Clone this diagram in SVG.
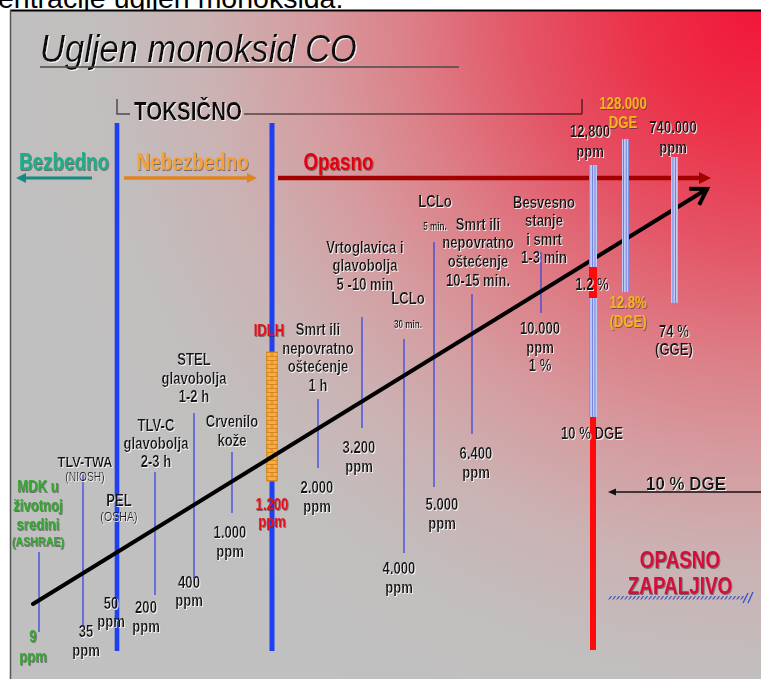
<svg xmlns="http://www.w3.org/2000/svg" width="761" height="679" viewBox="0 0 761 679">
<defs>
<radialGradient id="bg" gradientUnits="userSpaceOnUse" cx="761" cy="10" r="790">
<stop offset="0" stop-color="#f2163a"/>
<stop offset="0.15" stop-color="#ec3048"/>
<stop offset="0.3" stop-color="#e45466"/>
<stop offset="0.45" stop-color="#dc8088"/>
<stop offset="0.57" stop-color="#d59ca0"/>
<stop offset="0.7" stop-color="#cbb2b3"/>
<stop offset="0.84" stop-color="#c2bebe"/>
<stop offset="1" stop-color="#c0c0c0"/>
</radialGradient>
<pattern id="stripe" patternUnits="userSpaceOnUse" x="0" y="0" width="2.6" height="10">
<rect width="2.6" height="10" fill="#c0caf6"/>
<rect x="1.8" width="0.8" height="10" fill="#6072d6"/>
</pattern>
<pattern id="brick" patternUnits="userSpaceOnUse" x="266.5" y="352" width="11" height="8">
<rect width="11" height="8" fill="#f7ae3c"/>
<path d="M0,0.4H11M0,4.4H11M5.5,0V4.4M0.4,4.4V8M10.6,4.4V8" stroke="#c9771c" stroke-width="0.8" fill="none"/>
</pattern>
<pattern id="hatch" patternUnits="userSpaceOnUse" x="0" y="596" width="4" height="4">
<path d="M0.5,4L3.5,0" stroke="#3552d2" stroke-width="1.2"/>
</pattern>
<filter id="shW" x="-10%" y="-10%" width="130%" height="140%">
<feDropShadow dx="1" dy="1" stdDeviation="0.3" flood-color="#ffffff" flood-opacity="0.9"/>
</filter>
<filter id="shD" x="-10%" y="-10%" width="130%" height="140%">
<feDropShadow dx="1" dy="1" stdDeviation="0.4" flood-color="#303030" flood-opacity="0.6"/>
</filter>
<marker id="mTeal" markerUnits="userSpaceOnUse" markerWidth="12" markerHeight="12" refX="2" refY="5" orient="auto" overflow="visible">
<path d="M0,0L10,5L0,10z" fill="#178a80"/>
</marker>
<marker id="mOrange" markerUnits="userSpaceOnUse" markerWidth="12" markerHeight="12" refX="2" refY="5" orient="auto" overflow="visible">
<path d="M0,0L10,5L0,10z" fill="#e2841e"/>
</marker>
<marker id="mRed" markerUnits="userSpaceOnUse" markerWidth="14" markerHeight="14" refX="2" refY="6" orient="auto" overflow="visible">
<path d="M0,0L12,6L0,12z" fill="#a50000"/>
</marker>
<marker id="mBlack" markerUnits="userSpaceOnUse" markerWidth="24" markerHeight="24" refX="20" refY="12" orient="auto" overflow="visible">
<path d="M5,2.5L20,12L5,21.5" fill="none" stroke="#000" stroke-width="4"/>
</marker>
<marker id="mSmall" markerUnits="userSpaceOnUse" markerWidth="10" markerHeight="10" refX="1" refY="3.5" orient="auto" overflow="visible">
<path d="M0,0L8,3.5L0,7z" fill="#111"/>
</marker>
</defs>
<style>
text{font-family:"Liberation Sans",Arial,sans-serif}
.lbl text{font-weight:bold;font-size:16px;fill:#171717;text-anchor:middle;filter:url(#shW)}
.lbl text.sm{font-size:10px}
.lbl text.par{font-size:12.5px;font-weight:normal}
.grn text{fill:#34a632;filter:url(#shD)}
.red text{fill:#e8101c;filter:url(#shD)}
.org text{fill:#f5b31c;filter:url(#shD)}
.lead{stroke:#3848e0;stroke-width:1.3}
.thick{fill:#1f40f2}
.bar{fill:url(#stripe)}
</style>

<rect x="0" y="0" width="761" height="679" fill="#ffffff"/>
<text x="-2" y="8" font-size="28.5" fill="#000">entracije ugljen monoksida:</text>
<rect x="10" y="10" width="760" height="680" fill="url(#bg)"/>
<line x1="10" y1="10.5" x2="761" y2="10.5" stroke="#000" stroke-width="2"/>
<line x1="10.5" y1="10" x2="10.5" y2="679" stroke="#555" stroke-width="1.5"/>

<g id="title" filter="url(#shW)">
<text x="40" y="62" font-size="39" font-style="italic" fill="#111" textLength="317" lengthAdjust="spacingAndGlyphs">Ugljen monoksid CO</text>
</g>
<line x1="40" y1="67" x2="459" y2="67" stroke="#4a4a4a" stroke-width="1.5"/>

<g id="toksicno">
<path d="M117,99V114H130M244,114H582M582,99V114" fill="none" stroke="#000" stroke-opacity="0.6" stroke-width="1.5"/>
<g transform="translate(188 0) scale(.82 1)"><text x="0" y="120" font-size="25" font-weight="bold" fill="#111" text-anchor="middle" filter="url(#shW)">TOKSIČNO</text></g>
</g>

<g id="zones">
<g id="n-bezbedno" transform="translate(64 0) scale(.82 1)"><text x="0" y="170" font-size="23" font-weight="bold" fill="#1fae88" text-anchor="middle" filter="url(#shD)">Bezbedno</text></g>
<g id="n-nebezbedno" transform="translate(192.5 0) scale(.82 1)"><text x="0" y="170" font-size="23" font-weight="bold" fill="#f4a23e" text-anchor="middle" filter="url(#shD)">Nebezbedno</text></g>
<g id="n-opasno" transform="translate(338.5 0) scale(.82 1)"><text x="0" y="170" font-size="23" font-weight="bold" fill="#e6000e" text-anchor="middle" filter="url(#shD)">Opasno</text></g>
</g>

<g id="limits">
<rect class="thick" x="114.7" y="123" width="4.6" height="528"/>
<rect class="thick" x="269.5" y="123" width="5" height="528"/>
<rect x="266.5" y="352" width="11" height="129" fill="url(#brick)" stroke="#d08a20" stroke-width="0.8"/>
</g>

<g id="connectors">
<line x1="92" y1="178" x2="24" y2="178" stroke="#178a80" stroke-width="3" marker-end="url(#mTeal)"/>
<line x1="124" y1="178" x2="249" y2="178" stroke="#e2841e" stroke-width="3.5" marker-end="url(#mOrange)"/>
<line x1="278" y1="178" x2="701" y2="178" stroke="#a50000" stroke-width="4.5" marker-end="url(#mRed)"/>
<line class="lead" x1="39" y1="552" x2="39" y2="632"/>
<line class="lead" x1="83" y1="472" x2="83" y2="625"/>
<line class="lead" x1="155" y1="472" x2="155" y2="595"/>
<line class="lead" x1="194" y1="413" x2="194" y2="578"/>
<line class="lead" x1="232" y1="452" x2="232" y2="513"/>
<line class="lead" x1="318" y1="399" x2="318" y2="468"/>
<line class="lead" x1="362" y1="317" x2="362" y2="428"/>
<line class="lead" x1="404" y1="339" x2="404" y2="553"/>
<line class="lead" x1="434" y1="242" x2="434" y2="487"/>
<line class="lead" x1="472" y1="294" x2="472" y2="434"/>
<line class="lead" x1="541" y1="252" x2="541" y2="313"/>
<line x1="33" y1="604" x2="707" y2="189" stroke="#000" stroke-width="4" stroke-linecap="round" marker-end="url(#mBlack)"/>
<line x1="761" y1="492" x2="615" y2="492" stroke="#111" stroke-width="1.5" marker-end="url(#mSmall)"/>
</g>

<g id="bars">
<rect class="bar" x="589" y="165" width="8" height="102"/>
<rect x="589" y="267" width="8" height="31" fill="#ff0a0a"/>
<rect class="bar" x="589" y="298" width="8" height="119"/>
<rect x="590" y="417" width="6" height="233" fill="#ff0a0a"/>
<rect class="bar" x="622" y="139" width="7" height="153"/>
<rect class="bar" x="671" y="157" width="7" height="146"/>
</g>

<g id="n-mdk" class="lbl grn" transform="translate(38 0) scale(.82 1)"><text><tspan x="0" y="492">MDK u</tspan><tspan x="0" y="511">životnoj</tspan><tspan x="0" y="530">sredini</tspan><tspan x="0" y="546" style="font-size:13px">(ASHRAE)</tspan></text></g>
<g id="n-9ppm" class="lbl grn" transform="translate(33 0) scale(.82 1)"><text><tspan x="0" y="642">9</tspan><tspan x="0" y="662">ppm</tspan></text></g>
<g id="n-tlvtwa" class="lbl" transform="translate(85 0) scale(.82 1)"><text><tspan x="0" y="467" style="font-size:15.5px">TLV-TWA</tspan><tspan x="0" y="481" class="par" style="font-size:12.5px;font-weight:normal">(NIOSH)</tspan></text></g>
<g id="n-35ppm" class="lbl" transform="translate(86 0) scale(.82 1)"><text><tspan x="0" y="637">35</tspan><tspan x="0" y="656">ppm</tspan></text></g>
<g id="n-pel" class="lbl" transform="translate(119 0) scale(.82 1)"><text><tspan x="0" y="506">PEL</tspan><tspan x="0" y="521" style="font-size:13px;font-weight:normal">(OSHA)</tspan></text></g>
<g id="n-50ppm" class="lbl" transform="translate(111 0) scale(.82 1)"><text><tspan x="0" y="609">50</tspan><tspan x="0" y="627">ppm</tspan></text></g>
<g id="n-tlvc" class="lbl" transform="translate(156 0) scale(.82 1)"><text><tspan x="0" y="431">TLV-C</tspan><tspan x="0" y="449">glavobolja</tspan><tspan x="0" y="467">2-3 h</tspan></text></g>
<g id="n-200ppm" class="lbl" transform="translate(146 0) scale(.82 1)"><text><tspan x="0" y="613">200</tspan><tspan x="0" y="632">ppm</tspan></text></g>
<g id="n-stel" class="lbl" transform="translate(194 0) scale(.82 1)"><text><tspan x="0" y="365">STEL</tspan><tspan x="0" y="384">glavobolja</tspan><tspan x="0" y="402">1-2 h</tspan></text></g>
<g id="n-400ppm" class="lbl" transform="translate(189 0) scale(.82 1)"><text><tspan x="0" y="588">400</tspan><tspan x="0" y="606">ppm</tspan></text></g>
<g id="n-crvenilo" class="lbl" transform="translate(232 0) scale(.82 1)"><text><tspan x="0" y="427">Crvenilo</tspan><tspan x="0" y="446">kože</tspan></text></g>
<g id="n-1000ppm" class="lbl" transform="translate(230 0) scale(.82 1)"><text><tspan x="0" y="538">1.000</tspan><tspan x="0" y="557">ppm</tspan></text></g>
<g id="n-idlh" class="lbl red" transform="translate(269 0) scale(.82 1)"><text><tspan x="0" y="336">IDLH</tspan></text></g>
<g id="n-1200ppm" class="lbl red" transform="translate(272 0) scale(.82 1)"><text><tspan x="0" y="510">1.200</tspan><tspan x="0" y="527">ppm</tspan></text></g>
<g id="n-smrt1h" class="lbl" transform="translate(318 0) scale(.82 1)"><text><tspan x="0" y="335">Smrt ili</tspan><tspan x="0" y="354">nepovratno</tspan><tspan x="0" y="372">oštećenje</tspan><tspan x="0" y="391">1 h</tspan></text></g>
<g id="n-2000ppm" class="lbl" transform="translate(317 0) scale(.82 1)"><text><tspan x="0" y="493">2.000</tspan><tspan x="0" y="512">ppm</tspan></text></g>
<g id="n-vrtoglavica" class="lbl" transform="translate(365 0) scale(.82 1)"><text><tspan x="0" y="253">Vrtoglavica i</tspan><tspan x="0" y="271">glavobolja</tspan><tspan x="0" y="290">5 -10 min</tspan></text></g>
<g id="n-3200ppm" class="lbl" transform="translate(359 0) scale(.82 1)"><text><tspan x="0" y="453">3.200</tspan><tspan x="0" y="472">ppm</tspan></text></g>
<g id="n-lclo30" class="lbl" transform="translate(408 0) scale(.82 1)"><text><tspan x="0" y="304">LCLo</tspan><tspan x="0" y="328" style="font-size:10px">30 min.</tspan></text></g>
<g id="n-4000ppm" class="lbl" transform="translate(399 0) scale(.82 1)"><text><tspan x="0" y="574">4.000</tspan><tspan x="0" y="593">ppm</tspan></text></g>
<g id="n-lclo5" class="lbl" transform="translate(435 0) scale(.82 1)"><text><tspan x="0" y="207">LCLo</tspan><tspan x="0" y="230" style="font-size:10px">5 min.</tspan></text></g>
<g id="n-smrt1015" class="lbl" transform="translate(478 0) scale(.82 1)"><text><tspan x="0" y="230">Smrt ili</tspan><tspan x="0" y="248">nepovratno</tspan><tspan x="0" y="267">oštećenje</tspan><tspan x="0" y="286">10-15 min.</tspan></text></g>
<g id="n-5000ppm" class="lbl" transform="translate(442 0) scale(.82 1)"><text><tspan x="0" y="510">5.000</tspan><tspan x="0" y="529">ppm</tspan></text></g>
<g id="n-6400ppm" class="lbl" transform="translate(476 0) scale(.82 1)"><text><tspan x="0" y="459">6.400</tspan><tspan x="0" y="478">ppm</tspan></text></g>
<g id="n-besvesno" class="lbl" transform="translate(544 0) scale(.82 1)"><text><tspan x="0" y="208">Besvesno</tspan><tspan x="0" y="226">stanje</tspan><tspan x="0" y="245">i smrt</tspan><tspan x="0" y="263">1-3 min</tspan></text></g>
<g id="n-10000ppm" class="lbl" transform="translate(540 0) scale(.82 1)"><text><tspan x="0" y="334">10.000</tspan><tspan x="0" y="353">ppm</tspan><tspan x="0" y="371">1 %</tspan></text></g>
<g id="n-12800ppm" class="lbl" transform="translate(590 0) scale(.82 1)"><text><tspan x="0" y="137">12,800</tspan><tspan x="0" y="157">ppm</tspan></text></g>
<g id="n-128000dge" class="lbl org" transform="translate(623 0) scale(.82 1)"><text><tspan x="0" y="109">128.000</tspan><tspan x="0" y="128">DGE</tspan></text></g>
<g id="n-740000ppm" class="lbl" transform="translate(673 0) scale(.82 1)"><text><tspan x="0" y="133">740.000</tspan><tspan x="0" y="153">ppm</tspan></text></g>
<g id="n-12pct" class="lbl" transform="translate(592 0) scale(.82 1)"><text><tspan x="0" y="290">1.2 %</tspan></text></g>
<g id="n-128pct" class="lbl org" transform="translate(628 0) scale(.82 1)"><text><tspan x="0" y="308">12.8%</tspan><tspan x="0" y="327">(DGE)</tspan></text></g>
<g id="n-74pct" class="lbl" transform="translate(674 0) scale(.82 1)"><text><tspan x="0" y="337">74 %</tspan><tspan x="0" y="355">(GGE)</tspan></text></g>
<g id="n-10dge-bar" class="lbl" transform="translate(592 0) scale(.82 1)"><text><tspan x="0" y="439">10 % DGE</tspan></text></g>
<g id="n-10dge-arrow" class="lbl" transform="translate(686 0) scale(.89 1)"><text><tspan x="0" y="490" style="font-size:19px">10 % DGE</tspan></text></g>
<g id="n-zapaljivo">
<g transform="translate(680 0) scale(.82 1)"><text font-size="23" font-weight="bold" fill="#d4103c" text-anchor="middle" filter="url(#shD)"><tspan x="0" y="568">OPASNO</tspan><tspan x="0" y="594">ZAPALJIVO</tspan></text></g>
<rect x="608" y="596" width="138" height="3.5" fill="url(#hatch)"/>
<path d="M743,603L748,593M748,603L753,592" stroke="#3552d2" stroke-width="1.3" fill="none"/>
</g>
</svg>
